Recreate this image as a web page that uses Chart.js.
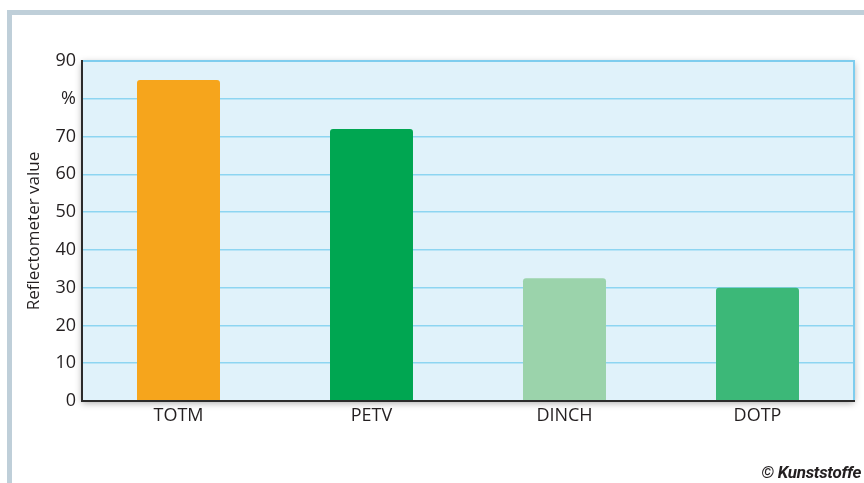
<!DOCTYPE html>
<html>
<head>
<meta charset="utf-8">
<script src="https://cdn.jsdelivr.net/npm/chart.js@4/dist/chart.umd.min.js"></script>
<style>
  html, body { margin: 0; padding: 0; background: #ffffff; }
  #wrap { position: relative; width: 864px; height: 483px; overflow: hidden; }
  #c { position: absolute; left: 0; top: 0; }
  #credit { position: absolute; right: 3px; top: 462px; font-family: "Roboto", Arial, sans-serif;
    font-weight: bold; font-style: italic; font-size: 17px; color: #231f20; white-space: nowrap; letter-spacing: -0.3px; }
</style>
</head>
<body>
<div id="wrap">
  <canvas id="c" width="864" height="483"></canvas>
  <div id="credit">© Kunststoffe</div>
</div>
<script>
const categories = ["TOTM", "PETV", "DINCH", "DOTP"];
const values = [85, 72, 32.5, 30];
const barColors = ["#f6a51c", "#00a651", "#9bd3ab", "#3cb878"];
const yTicks = [0, 10, 20, 30, 40, 50, 60, 70, 80, 90];
const yTickLabels = ["0", "10", "20", "30", "40", "50", "60", "70", "%", "90"];
const yTitle = "Reflectometer value";

const decor = {
  id: 'decor',
  beforeDraw(chart) {
    const ctx = chart.ctx;
    const a = chart.chartArea;
    ctx.save();
    ctx.fillStyle = '#bfcfd9';
    ctx.fillRect(7, 10, 864 - 7, 5);
    ctx.fillRect(7, 10, 5, 483 - 10);
    ctx.shadowColor = 'rgba(0,0,0,0.35)';
    ctx.shadowBlur = 7;
    ctx.shadowOffsetX = 0;
    ctx.shadowOffsetY = 2;
    ctx.fillStyle = '#e0f2fa';
    ctx.fillRect(a.left, a.top, a.right - a.left, a.bottom - a.top);
    ctx.restore();
  },
  afterDraw(chart) {
    const ctx = chart.ctx;
    const a = chart.chartArea;
    ctx.save();
    ctx.strokeStyle = '#7fcdee';
    ctx.lineWidth = 2;
    ctx.beginPath();
    ctx.moveTo(a.left, a.top);
    ctx.lineTo(a.right, a.top);
    ctx.lineTo(a.right, a.bottom);
    ctx.stroke();
    ctx.strokeStyle = '#2b2b2b';
    ctx.lineWidth = 2;
    ctx.beginPath();
    ctx.moveTo(a.left, a.top - 1);
    ctx.lineTo(a.left, a.bottom);
    ctx.lineTo(a.right + 1, a.bottom);
    ctx.stroke();
    ctx.restore();
  }
};

const tickFont = { family: '"Open Sans", sans-serif', size: 18 };

new Chart(document.getElementById('c'), {
  type: 'bar',
  data: {
    labels: categories,
    datasets: [{
      data: values,
      backgroundColor: barColors,
      borderWidth: 0,
      borderRadius: { topLeft: 3, topRight: 3, bottomLeft: 0, bottomRight: 0 },
      borderSkipped: 'start',
      barPercentage: 0.43,
      categoryPercentage: 1.0
    }]
  },
  plugins: [decor],
  options: {
    responsive: false,
    animation: false,
    devicePixelRatio: 1,
    layout: { padding: { left: 0, top: 61, right: 10, bottom: 0 } },
    plugins: { legend: { display: false }, tooltip: { enabled: false } },
    scales: {
      x: {
        grid: { display: false, drawTicks: false },
        border: { display: false },
        ticks: { color: '#231f20', font: tickFont, padding: 4, maxRotation: 0 },
        afterFit(s) { s.height = 82; }
      },
      y: {
        min: 0, max: 90,
        afterBuildTicks(s) { s.ticks = yTicks.map(v => ({ value: v })); },
        grid: { color: '#8dd5f1', lineWidth: 1.5, drawTicks: false },
        border: { display: false },
        ticks: {
          color: '#231f20',
          font: tickFont,
          padding: 6,
          callback(v) { const i = yTicks.indexOf(v); return i >= 0 ? yTickLabels[i] : ''; }
        },
        title: {
          display: true, text: yTitle, color: '#231f20',
          font: { family: '"Open Sans", sans-serif', size: 17 },
          padding: { top: 24, bottom: 0 }
        },
        afterFit(s) { s.width = 82; }
      }
    }
  }
});
</script>
</body>
</html>
